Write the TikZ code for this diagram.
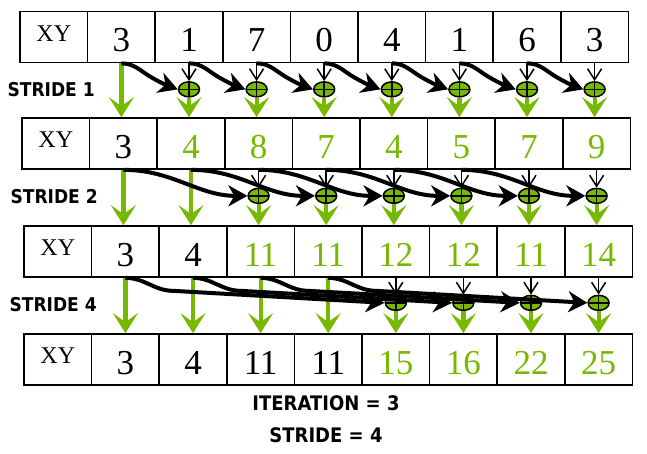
\documentclass[tikz,border=0pt]{standalone}
\usepackage{fontspec}
\setmainfont{Liberation Serif}
\newfontfamily\labelfont[FakeStretch=0.9]{DejaVu Sans}
\usetikzlibrary{arrows.meta,shapes.geometric}
\definecolor{nvgreen}{HTML}{76B900}

\begin{document}
\begin{tikzpicture}[x=1pt,y=1pt,
  cell/.style={draw,line width=1.7pt,minimum width=67.6pt,minimum height=51pt,inner sep=0pt,font=\fontsize{35}{40}\selectfont,text height=29pt,text depth=0pt},
  xycell/.style={cell,font=\fontsize{24}{28}\selectfont,text height=16pt,text depth=8pt},
  sum/.style={ellipse,draw,line width=1.5pt,fill=nvgreen,minimum width=21pt,minimum height=15pt,inner sep=0pt,
    path picture={\draw[line width=1.5pt] (path picture bounding box.north) -- (path picture bounding box.south) (path picture bounding box.west) -- (path picture bounding box.east);}},
  pass/.style={-{Stealth[length=20pt,width=25pt,inset=9pt]},line width=4.2pt,nvgreen},
  carry/.style={-{Stealth[length=19pt,width=21pt,inset=6pt]},line width=4pt},
  feed/.style={-{Straight Barb[length=11pt,width=14pt]},line width=1.5pt},
  stridelbl/.style={font=\labelfont\bfseries\fontsize{19}{22}\selectfont,anchor=west}]
\useasboundingbox (0,0) rectangle (647,-453);
% the four rows of the array
\node[xycell] (a0) at (53.8,-37) {XY};
\foreach \v [count=\i] in {3,1,7,0,4,1,6,3}
  \node[cell] (a\i) at (53.8+67.6*\i,-37) {\v};
\node[xycell] (b0) at (55.8,-143.5) {XY};
\foreach \v/\c [count=\i] in {3/black,4/nvgreen,8/nvgreen,7/nvgreen,4/nvgreen,5/nvgreen,7/nvgreen,9/nvgreen}
  \node[cell,text=\c] (b\i) at (55.8+67.6*\i,-143.5) {\v};
\node[xycell] (c0) at (57.8,-251.5) {XY};
\foreach \v/\c [count=\i] in {3/black,4/black,11/nvgreen,11/nvgreen,12/nvgreen,12/nvgreen,11/nvgreen,14/nvgreen}
  \node[cell,text=\c] (c\i) at (57.8+67.6*\i,-251.5) {\v};
\node[xycell] (d0) at (57.8,-359.5) {XY};
\foreach \v/\c [count=\i] in {3/black,4/black,11/black,11/black,15/nvgreen,16/nvgreen,22/nvgreen,25/nvgreen}
  \node[cell,text=\c] (d\i) at (57.8+67.6*\i,-359.5) {\v};
% stride 1
\foreach \i in {2,...,8} \node[sum] (sa\i) at ([yshift=-26pt]a\i.south) {};
\draw[pass] (a1.south) -- (a1.south |- b1.north);
\foreach \i [evaluate=\i as \j using int(\i-1)] in {2,...,8} {
  \draw[pass] (sa\i.south) -- (sa\i.south |- b\i.north);
  \draw[feed] (a\i.south) -- (sa\i.north);
  \draw[carry] (a\j.south) to[out=0,in=150] ++(30,-14) to[out=-30,in=160] (sa\i.west);
}
% stride 2
\foreach \i in {3,...,8} \node[sum] (sb\i) at ([yshift=-26pt]b\i.south) {};
\foreach \i in {1,2} \draw[pass] (b\i.south) -- (b\i.south |- c\i.north);
\foreach \i [evaluate=\i as \j using int(\i-2)] in {3,...,8} {
  \draw[pass] (sb\i.south) -- (sb\i.south |- c\i.north);
  \draw[feed] (b\i.south) -- (sb\i.north);
  \draw[carry] (b\j.south) to[out=0,in=180] (sb\i.west);
}
% stride 4
\foreach \i in {5,...,8} \node[sum] (sc\i) at ([yshift=-25pt]c\i.south) {};
\foreach \i in {1,...,4} \draw[pass] (c\i.south) -- (c\i.south |- d\i.north);
\foreach \i [evaluate=\i as \j using int(\i-4)] in {5,...,8} {
  \draw[pass] (sc\i.south) -- (sc\i.south |- d\i.north);
  \draw[feed] (c\i.south) -- (sc\i.north);
  \draw[carry] (c\j.south) to[out=0,in=180] ++(48,-13) -- (sc\i.west);
}
% labels
\node[stridelbl] (st1) at (4,-90) {STRIDE 1};
\node[stridelbl] (st2) at (7,-197) {STRIDE 2};
\node[stridelbl] (st4) at (6,-305) {STRIDE 4};
\node[stridelbl,anchor=center,font=\labelfont\bfseries\fontsize{20}{24}\selectfont] (iter) at (326,-403) {ITERATION = 3};
\node[stridelbl,anchor=center,font=\labelfont\bfseries\fontsize{20}{24}\selectfont] (strd) at (326,-435) {STRIDE = 4};
\end{tikzpicture}
\end{document}
